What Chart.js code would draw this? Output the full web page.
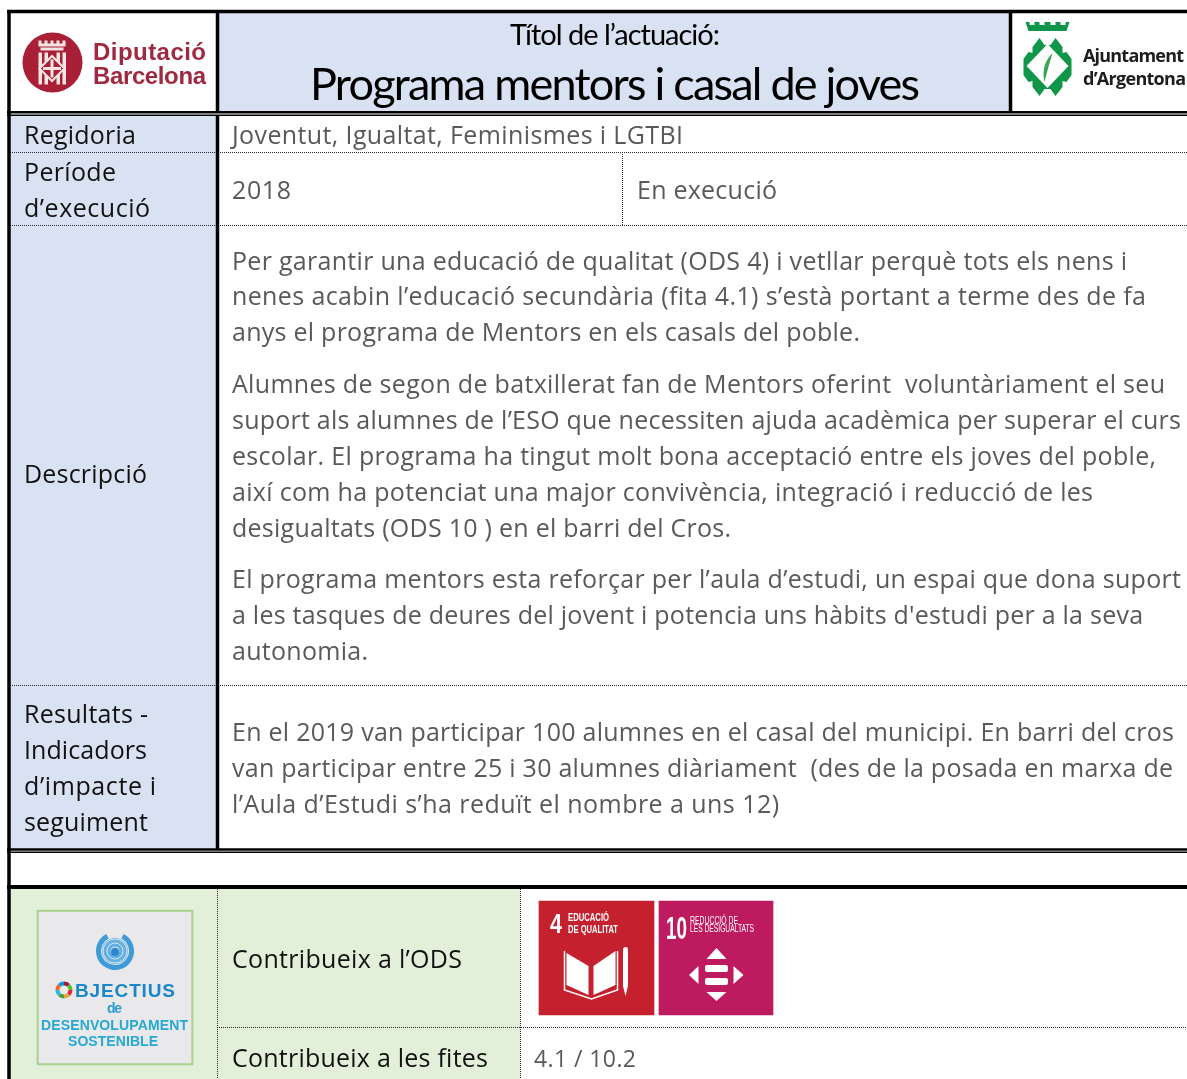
<!DOCTYPE html>
<html>
<head>
<meta charset="utf-8">
<style>
  html, body { margin: 0; padding: 0; background: #fff; overflow: hidden; }
  canvas { display: block; }
</style>
<script src="https://cdn.jsdelivr.net/npm/chart.js@4"></script>
</head>
<body>
<canvas id="fitxa" width="1187" height="1079"></canvas>
<script>
// texts of the sheet
const labelLines = ["Regidoria", "Període", "d’execució", "Descripció", "Resultats -", "Indicadors", "d’impacte i", "seguiment", "Contribueix a l’ODS", "Contribueix a les fites"];
const labelLeft = [24, 24, 24, 24, 24, 24, 24, 24, 232, 232];
const labelRight = [136, 116, 150, 147, 148, 147, 156, 148, 462, 488];
const labelBase = [144, 181, 217, 483, 723, 759, 795, 831, 968, 1067];

const bodyLines = [
  "Joventut, Igualtat, Feminismes i LGTBI",
  "2018",
  "Per garantir una educació de qualitat (ODS 4) i vetllar perquè tots els nens i",
  "nenes acabin l’educació secundària (fita 4.1) s’està portant a terme des de fa",
  "anys el programa de Mentors en els casals del poble.",
  "Alumnes de segon de batxillerat fan de Mentors oferint  voluntàriament el seu",
  "suport als alumnes de l’ESO que necessiten ajuda acadèmica per superar el curs",
  "escolar. El programa ha tingut molt bona acceptació entre els joves del poble,",
  "així com ha potenciat una major convivència, integració i reducció de les",
  "desigualtats (ODS 10 ) en el barri del Cros.",
  "El programa mentors esta reforçar per l’aula d’estudi, un espai que dona suport",
  "a les tasques de deures del jovent i potencia uns hàbits d'estudi per a la seva",
  "autonomia.",
  "En el 2019 van participar 100 alumnes en el casal del municipi. En barri del cros",
  "van participar entre 25 i 30 alumnes diàriament  (des de la posada en marxa de",
  "l’Aula d’Estudi s’ha reduït el nombre a uns 12)"
];
const bodyRight = [683, 291, 1127, 1146, 860, 1165, 1181, 1156, 1093, 731, 1181, 1143, 368, 1174, 1173, 779];
const bodyBase = [144, 199, 270, 305, 341, 393, 429, 465, 501, 537, 588, 624, 660, 741, 777, 813];

// grid of the table
const colEdges = [10, 216, 520, 622, 1012, 1187];
const rowEdges = [13, 111, 116, 152, 225, 685, 849, 853, 885, 889, 1027, 1079];
const headerBlue = "#d9e2f3";
const rowGreen = "#e2efd9";

const xAxisMax = 1187;
const yAxisMax = 1079;

function cell(x0, x1, y0, y1, color, order) {
  return {
    type: "bar",
    data: [{ x: (x0 + x1) / 2, y: [y0, y1] }],
    barThickness: x1 - x0,
    backgroundColor: color,
    borderWidth: 0,
    grouped: false,
    order: order
  };
}

function rule(x0, y0, x1, y1, width, dotted) {
  return {
    type: "line",
    data: [{ x: x0, y: y0 }, { x: x1, y: y1 }],
    borderColor: dotted ? "#2a2a2a" : "#000",
    borderWidth: width,
    borderDash: dotted ? [1, 1] : [],
    pointRadius: 0,
    fill: false,
    order: 1
  };
}

const datasets = [
  // filled cells
  cell(colEdges[1] + 3, 1009, rowEdges[0], rowEdges[1], headerBlue, 5),
  cell(colEdges[0], colEdges[1], rowEdges[2], rowEdges[6], headerBlue, 5),
  cell(colEdges[0], colEdges[2], rowEdges[9], rowEdges[11], rowGreen, 5),
  // logo box and goal tiles
  cell(37, 193, 910, 1065, "#a9d18e", 4),
  cell(39, 191, 912, 1063, "#e9e8ea", 3),
  cell(539, 654, 901, 1015, "#c4202e", 3),
  cell(659, 773, 901, 1015, "#bd1a60", 3),
  // heavy rules
  rule(7, 11.5, xAxisMax, 11.5, 3.5),
  rule(9, 10, 9, yAxisMax, 3.5),
  rule(217.5, 10, 217.5, 112, 3.5),
  rule(1010.5, 10, 1010.5, 112, 3.5),
  rule(7, 112.2, xAxisMax, 112.2, 2.5),
  rule(7, 115.3, xAxisMax, 115.3, 1.5),
  rule(217.5, 115, 217.5, 850, 3.5),
  rule(7, 849.5, xAxisMax, 849.5, 2.5),
  rule(7, 852.3, xAxisMax, 852.3, 1.5),
  rule(7, 887, xAxisMax, 887, 4),
  // dotted rules
  rule(10, 152.5, xAxisMax, 152.5, 1, true),
  rule(10, 225.5, xAxisMax, 225.5, 1, true),
  rule(10, 685.5, xAxisMax, 685.5, 1, true),
  rule(217, 1027.5, xAxisMax, 1027.5, 1, true),
  rule(622.5, 152, 622.5, 225, 1, true),
  rule(217.5, 889, 217.5, yAxisMax, 1, true),
  rule(520.5, 889, 520.5, yAxisMax, 1, true)
];

// one fitted line of text, left edge to right edge
function fitted(ctx, text, x0, x1, base, font, color) {
  ctx.font = font;
  ctx.fillStyle = color;
  ctx.textBaseline = "alphabetic";
  ctx.textAlign = "left";
  ctx.letterSpacing = "0px";
  const natural = ctx.measureText(text).width;
  ctx.letterSpacing = ((x1 - x0 - natural) / Math.max(text.length - 1, 1)).toFixed(3) + "px";
  ctx.fillText(text, x0, base);
  ctx.letterSpacing = "0px";
}

// same, but narrowed like the condensed lettering of the goal tiles
function squeezed(ctx, text, x0, x1, base, font, color) {
  ctx.font = font;
  ctx.fillStyle = color;
  ctx.textBaseline = "alphabetic";
  ctx.textAlign = "left";
  const natural = ctx.measureText(text).width;
  ctx.save();
  ctx.translate(x0, base);
  ctx.scale((x1 - x0) / natural, 1);
  ctx.fillText(text, 0, 0);
  ctx.restore();
}

function polygon(ctx, cx, cy, pts) {
  ctx.beginPath();
  pts.forEach(function (p, i) {
    if (i === 0) ctx.moveTo(cx + p[0], cy + p[1]);
    else ctx.lineTo(cx + p[0], cy + p[1]);
  });
  ctx.closePath();
  ctx.fill();
}

function diputacioLogo(ctx, xs, ys) {
  const cx = xs.getPixelForValue(52.5), cy = ys.getPixelForValue(62.5);
  const red = "#a81f36", pale = "#f4e4e4";
  ctx.fillStyle = red;
  ctx.beginPath();
  ctx.arc(cx, cy, 30, 0, Math.PI * 2);
  ctx.fill();
  // crown
  ctx.fillStyle = pale;
  for (let i = 0; i < 5; i++) ctx.fillRect(cx - 14 + i * 6, cy - 22, 3, 4);
  ctx.fillRect(cx - 14, cy - 19, 27, 3);
  ctx.fillRect(cx - 12, cy - 15, 23, 3);
  // pales of the shield
  [-14, -8, 4, 10].forEach(function (dx) { ctx.fillRect(cx + dx, cy - 10, 3.5, 32); });
  // diamond with the cross
  const dy = cy + 6;
  polygon(ctx, cx - 0.5, dy, [[0, -14], [14, 0], [0, 14], [-14, 0]]);
  ctx.fillStyle = red;
  polygon(ctx, cx - 0.5, dy, [[0, -11], [11, 0], [0, 11], [-11, 0]]);
  ctx.fillStyle = pale;
  ctx.fillRect(cx - 2, dy - 9, 3, 18);
  ctx.fillRect(cx - 9.5, dy - 1.5, 18, 3);
}

function argentonaLogo(ctx, xs, ys) {
  const cx = xs.getPixelForValue(1047.5), cy = ys.getPixelForValue(67);
  const green = "#0f9648";
  ctx.fillStyle = green;
  // crown
  polygon(ctx, cx, ys.getPixelForValue(22), [[-22, 0], [-18, 0], [-18, 3], [-13, 3], [-13, 0], [-8, 0], [-8, 3], [-3, 3], [-3, 0], [3, 0], [3, 3], [8, 3], [8, 0], [13, 0], [13, 3], [18, 3], [18, 0], [22, 0], [19, 9], [-19, 9]]);
  // badge
  polygon(ctx, cx, cy, [[-8, -29], [-3, -22], [3, -22], [8, -29], [15, -20], [15, -14], [19, -15], [24, -8], [24, 8], [19, 15], [15, 14], [15, 20], [8, 29], [3, 22], [-3, 22], [-8, 29], [-15, 20], [-15, 14], [-19, 15], [-24, 8], [-24, -8], [-19, -15], [-15, -14], [-15, -20]]);
  ctx.fillStyle = "#fff";
  polygon(ctx, cx, cy - 1, [[0, -22], [21, 0], [0, 22], [-21, 0]]);
  // feather
  ctx.fillStyle = "#3aa655";
  ctx.beginPath();
  ctx.moveTo(cx + 5, cy - 14);
  ctx.quadraticCurveTo(cx - 7, cy - 2, cx - 3, cy + 15);
  ctx.quadraticCurveTo(cx + 1, cy - 1, cx + 5, cy - 14);
  ctx.fill();
}

function unEmblem(ctx, xs, ys) {
  const cx = xs.getPixelForValue(115), cy = ys.getPixelForValue(951);
  // wreath
  ctx.strokeStyle = "#3f9ad8";
  ctx.lineWidth = 5;
  ctx.beginPath();
  ctx.arc(cx, cy, 16.5, 0.45 * Math.PI, 1.35 * Math.PI);
  ctx.stroke();
  ctx.beginPath();
  ctx.arc(cx, cy, 16.5, -0.35 * Math.PI, 0.55 * Math.PI);
  ctx.stroke();
  // globe
  ctx.fillStyle = "#66afe3";
  ctx.beginPath();
  ctx.arc(cx, cy, 13, 0, Math.PI * 2);
  ctx.fill();
  ctx.strokeStyle = "#d4e8f7";
  ctx.lineWidth = 1;
  [12, 8, 4].forEach(function (r) {
    ctx.beginPath();
    ctx.arc(cx, cy, r, 0, Math.PI * 2);
    ctx.stroke();
  });
  ctx.fillStyle = "#2f86c9";
  ctx.beginPath();
  ctx.arc(cx, cy + 1, 4, 0, Math.PI * 2);
  ctx.fill();
  // ring of the objectives
  const ringColors = ["#e5243b", "#dda63a", "#4c9f38", "#26bde2", "#fd6925", "#0a97d9", "#a21942", "#56c02b"];
  const rx = xs.getPixelForValue(64), ry = ys.getPixelForValue(990);
  ringColors.forEach(function (c, i) {
    ctx.strokeStyle = c;
    ctx.lineWidth = 4;
    ctx.beginPath();
    ctx.arc(rx, ry, 6.5, i * Math.PI / 4, (i + 1) * Math.PI / 4);
    ctx.stroke();
  });
}

function goalIcons(ctx, xs, ys) {
  const bx = xs.getPixelForValue(591.5), by = ys.getPixelForValue(950);
  ctx.fillStyle = "#fff";
  // open book
  polygon(ctx, bx, by, [[-25, 3], [-3, 16], [-3, 45], [-25, 35]]);
  polygon(ctx, bx, by, [[24, 1], [2, 16], [2, 45], [24, 35]]);
  ctx.strokeStyle = "#fff";
  ctx.lineWidth = 1.5;
  ctx.beginPath();
  ctx.moveTo(bx - 27, by + 1);
  ctx.lineTo(bx - 27, by + 40);
  ctx.lineTo(bx, by + 49);
  ctx.lineTo(bx + 26, by + 40);
  ctx.lineTo(bx + 26, by + 1);
  ctx.stroke();
  // pencil
  ctx.fillRect(bx + 31.5, by + 1, 5, 35);
  ctx.beginPath();
  ctx.arc(bx + 34, by - 0.5, 2.5, 0, Math.PI * 2);
  ctx.fill();
  polygon(ctx, bx, by, [[31.5, 36], [36.5, 36], [34, 46]]);
  // arrows and bars
  const ax = xs.getPixelForValue(716.5), ay = ys.getPixelForValue(974);
  ctx.beginPath();
  ctx.roundRect(ax - 11.5, ay - 9, 23, 7, 2);
  ctx.roundRect(ax - 11.5, ay + 4, 23, 7, 2);
  ctx.fill();
  polygon(ctx, ax, ay, [[0, -26], [10, -15], [-10, -15]]);
  polygon(ctx, ax, ay, [[0, 27], [10, 18], [-10, 18]]);
  polygon(ctx, ax, ay, [[-27.5, 1], [-18, -8], [-18, 10]]);
  polygon(ctx, ax, ay, [[27, 1], [17, -8], [17, 10]]);
}

const sheetText = {
  id: "sheetText",
  afterDatasetsDraw(chart) {
    const ctx = chart.ctx;
    const xs = chart.scales.x, ys = chart.scales.y;
    const put = (t, a, b, base, font, color) =>
      fitted(ctx, t, xs.getPixelForValue(a), xs.getPixelForValue(b), ys.getPixelForValue(base), font, color);
    const tight = (t, a, b, base, font, color) =>
      squeezed(ctx, t, xs.getPixelForValue(a), xs.getPixelForValue(b), ys.getPixelForValue(base), font, color);
    ctx.save();

    put("Títol de l’actuació:", 510, 720, 45, "29px Lato", "#000");
    put("Programa mentors i casal de joves", 310, 920, 100, "45px Lato", "#000");

    labelLines.forEach((t, i) => put(t, labelLeft[i], labelRight[i], labelBase[i], "25px 'Open Sans'", "#111"));
    bodyLines.forEach((t, i) => put(t, 232, bodyRight[i], bodyBase[i], "25px 'Open Sans'", "#595959"));
    put("En execució", 637, 777, 199, "25px 'Open Sans'", "#595959");
    put("4.1 / 10.2", 534, 636, 1067, "23px 'Open Sans'", "#595959");

    diputacioLogo(ctx, xs, ys);
    put("Diputació", 93, 206, 60, "bold 24px 'Liberation Sans'", "#a0293f");
    put("Barcelona", 93, 206, 84, "bold 24px 'Liberation Sans'", "#a0293f");

    argentonaLogo(ctx, xs, ys);
    put("Ajuntament", 1083, 1184, 62, "bold 18px 'Open Sans'", "#1d1d1d");
    put("d’Argentona", 1083, 1186, 85, "bold 18px 'Open Sans'", "#1d1d1d");

    unEmblem(ctx, xs, ys);
    put("BJECTIUS", 75, 175, 997, "bold 19px 'Liberation Sans'", "#1b87c9");
    put("de", 107, 122, 1013, "bold 14px 'Liberation Sans'", "#2b9fd3");
    put("DESENVOLUPAMENT", 41, 188, 1030, "bold 14px 'Liberation Sans'", "#27a9d2");
    put("SOSTENIBLE", 68, 158, 1046, "bold 14px 'Liberation Sans'", "#27a9d2");

    tight("4", 550, 562, 933, "bold 28px 'Liberation Sans'", "#fff");
    tight("EDUCACIÓ", 568, 609, 921, "bold 11px 'Liberation Sans'", "#fff");
    tight("DE QUALITAT", 568, 618, 933, "bold 11px 'Liberation Sans'", "#fff");
    tight("10", 666, 687, 939, "bold 32px 'Liberation Sans'", "#fff");
    tight("REDUCCIÓ DE", 690, 738, 924, "10px 'Liberation Sans'", "#fff");
    tight("LES DESIGUALTATS", 690, 754, 932, "10px 'Liberation Sans'", "#fff");
    goalIcons(ctx, xs, ys);

    ctx.restore();
  }
};

new Chart(document.getElementById("fitxa"), {
  type: "bar",
  data: { datasets: datasets },
  options: {
    responsive: false,
    animation: false,
    layout: { padding: 0 },
    plugins: { legend: { display: false }, tooltip: { enabled: false } },
    scales: {
      x: { type: "linear", min: 0, max: xAxisMax, offset: false, display: false },
      y: { type: "linear", min: 0, max: yAxisMax, reverse: true, display: false }
    }
  },
  plugins: [sheetText]
});
</script>
</body>
</html>
